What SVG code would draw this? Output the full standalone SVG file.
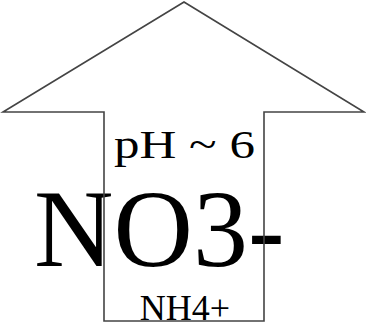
<svg xmlns="http://www.w3.org/2000/svg" width="366" height="325" viewBox="0 0 366 325">
<style>
text{font-family:"Liberation Serif","Times New Roman",serif;fill:#000}
.arrow{fill:none;stroke:#444;stroke-width:1.6;stroke-linejoin:miter}
</style>
<rect width="366" height="325" fill="#fff"/>
<g id="labels">
<text id="ph" x="114" y="158" font-size="40" textLength="141" lengthAdjust="spacingAndGlyphs">pH ~ 6</text>
<text id="no3" x="34" y="266" font-size="110">NO3-</text>
<text id="nh4" x="185" y="320" font-size="36" text-anchor="middle">NH4+</text>
</g>
<g id="arrow">
<polygon class="arrow" points="184,2 364,112 264,112 264,321 104,321 104,112 3,112"/>
</g>
</svg>
